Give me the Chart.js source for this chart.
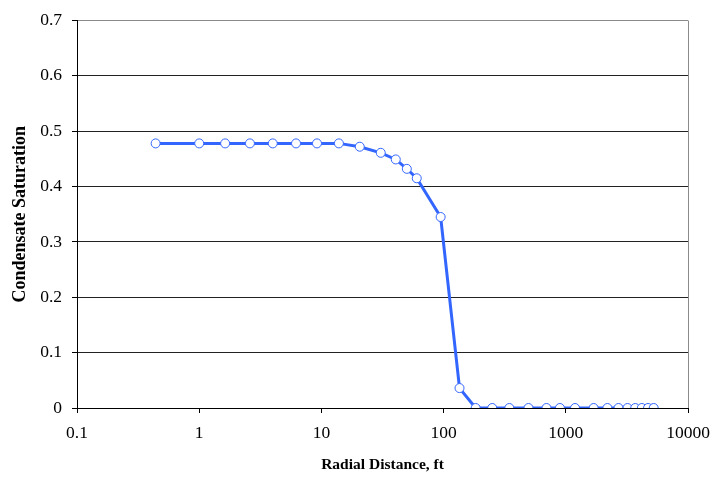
<!DOCTYPE html>
<html lang="en">
<head>
<meta charset="UTF-8">
<title>Condensate Saturation</title>
<script src="https://cdn.jsdelivr.net/npm/chart.js"></script>
<style>
  body { margin: 0; background: #fff; }
  #wrap { width: 713px; height: 477px; }
</style>
</head>
<body>
<div id="wrap"><canvas id="myChart" width="713" height="477"></canvas></div>
<script>
// radial distance (ft) and condensate saturation
const radialDistance = [0.44, 1.0, 1.63, 2.6, 4.0, 6.2, 9.2, 13.9, 20.6, 30.6, 40.6, 50, 60.3, 94.6,
  135, 183, 250, 345, 495, 695, 895, 1190, 1690, 2190, 2700, 3200, 3700, 4190, 4710, 5240];
const saturation = [0.478, 0.478, 0.478, 0.478, 0.478, 0.478, 0.478, 0.478, 0.472, 0.461, 0.449, 0.432, 0.415, 0.345,
  0.036, 0, 0, 0, 0, 0, 0, 0, 0, 0, 0, 0, 0, 0, 0, 0];
const xTicks = [0.1, 1, 10, 100, 1000, 10000];
const yTicks = [0, 0.1, 0.2, 0.3, 0.4, 0.5, 0.6, 0.7];

const points = radialDistance.map((x, i) => ({ x: x, y: saturation[i] }));
const serif = "'Liberation Serif', 'Times New Roman', serif";

const config = {
  type: 'scatter',
  data: {
    datasets: [{
      label: 'Condensate Saturation',
      data: points,
      showLine: true,
      borderColor: '#3366ff',
      borderWidth: 3,
      pointRadius: 4.5,
      pointBorderWidth: 1,
      pointBorderColor: '#3366ff',
      pointBackgroundColor: '#ffffff',
      tension: 0
    }]
  },
  options: {
    responsive: false,
    animation: false,
    layout: { padding: { left: 0, right: 25, top: 19, bottom: 0 } },
    plugins: { legend: { display: false }, tooltip: { enabled: false } },
    scales: {
      x: {
        type: 'logarithmic',
        min: 0.1,
        max: 10000,
        afterBuildTicks: (scale) => { scale.ticks = xTicks.map(v => ({ value: v })); },
        afterFit: (scale) => {
          scale.height = 69;
          // labels may overhang the plot edges, the layout padding covers them
          scale.paddingLeft = 0;
          scale.paddingRight = 0;
        },
        ticks: {
          color: '#000',
          padding: 10,
          maxRotation: 0,
          autoSkip: false,
          font: { family: serif, size: 17.5 },
          callback: (v) => String(v)
        },
        grid: {
          color: (ctx) => (ctx.tick && ctx.tick.value === 10000) ? '#8a8a8a' : 'rgba(0,0,0,0)',
          tickColor: '#000',
          tickLength: 5,
          lineWidth: 1
        },
        border: { color: '#000', width: 1 },
        title: {
          display: true,
          text: 'Radial Distance, ft',
          color: '#000',
          font: { family: serif, size: 15.5, weight: 'bold' },
          padding: { top: 4, bottom: 3 }
        }
      },
      y: {
        min: 0,
        max: 0.7,
        afterBuildTicks: (scale) => { scale.ticks = yTicks.map(v => ({ value: v })); },
        afterFit: (scale) => { scale.width = 77; },
        ticks: {
          color: '#000',
          padding: 10,
          font: { family: serif, size: 17.5 },
          callback: (v) => v === 0 ? '0' : v.toFixed(1)
        },
        grid: {
          color: (ctx) => (ctx.tick && Math.abs(ctx.tick.value - 0.7) < 1e-9) ? '#8a8a8a' : '#222',
          tickColor: '#000',
          tickLength: 5,
          lineWidth: 1
        },
        border: { color: '#000', width: 1 },
        title: {
          display: true,
          text: 'Condensate Saturation',
          color: '#000',
          font: { family: serif, size: 18, weight: 'bold' },
          padding: { top: 10, bottom: 4 }
        }
      }
    }
  }
};

const myChart = new Chart(document.getElementById('myChart'), config);
</script>
</body>
</html>
